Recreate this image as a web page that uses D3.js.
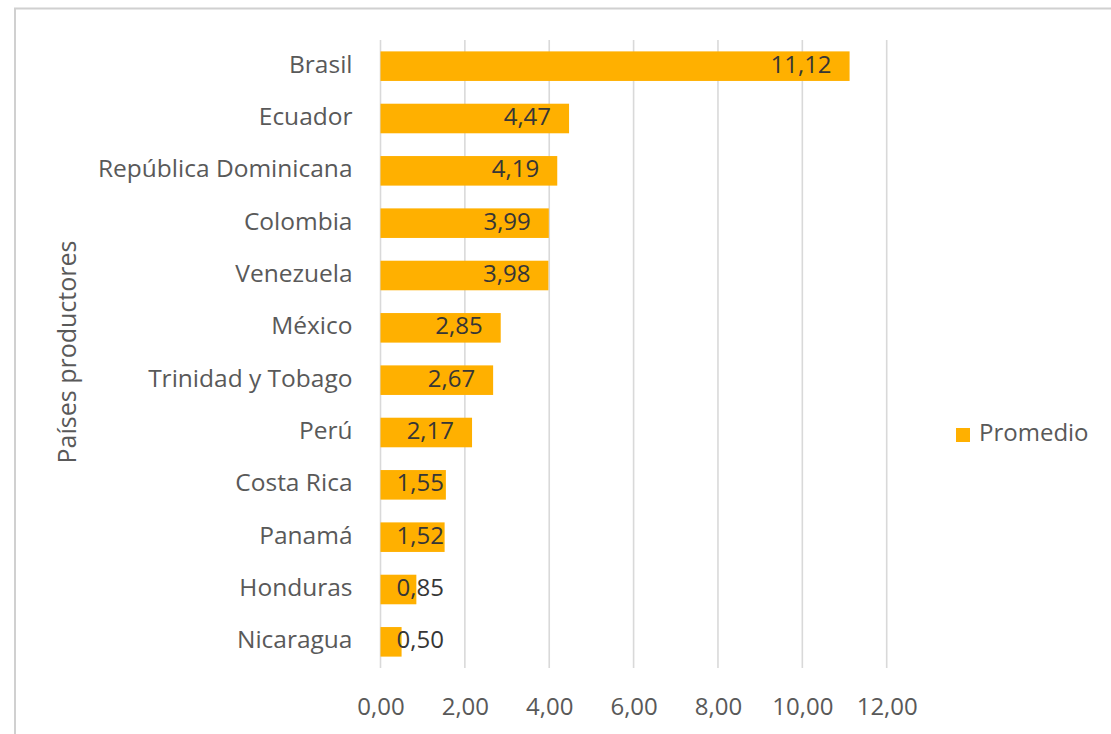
<!DOCTYPE html>
<html>
<head>
<meta charset="utf-8">
<script src="https://cdn.jsdelivr.net/npm/d3@7"></script>
<style>
  html, body { margin: 0; padding: 0; background: #fff; }
  svg { display: block; }
  text { font-family: "Open Sans", "Noto Sans", sans-serif; }
</style>
</head>
<body>
<svg id="chart" width="1111" height="734"></svg>
<script>
// Average per producing country
const countries = ["Brasil", "Ecuador", "República Dominicana", "Colombia", "Venezuela", "México",
  "Trinidad y Tobago", "Perú", "Costa Rica", "Panamá", "Honduras", "Nicaragua"];
const promedio = [11.12, 4.47, 4.19, 3.99, 3.98, 2.85, 2.67, 2.17, 1.55, 1.52, 0.85, 0.50];
const xTicks = [0, 2, 4, 6, 8, 10, 12];
const seriesName = "Promedio";
const axisTitle = "Países productores";

const W = 1111, H = 734;
const margin = { left: 380.5, right: W - 886.7, top: 40, bottom: H - 668 };
const barColor = "#FFB000";
const gridColor = "#D9D9D9";
const labelColor = "#595959";
const valueColor = "#363636";
const fontSize = 24;

const svg = d3.select("#chart");

// Outer chart frame
svg.append("rect")
  .attr("x", 15).attr("y", 8.5)
  .attr("width", W + 10).attr("height", H + 10)
  .attr("fill", "none").attr("stroke", "#D0D0D0").attr("stroke-width", 2);

const x = d3.scaleLinear().domain([0, 12]).range([margin.left, W - margin.right]);
const y = d3.scaleBand().domain(countries)
  .range([margin.top, H - margin.bottom]).paddingInner(0.435).paddingOuter(0.2175);

const fmt = v => d3.format(".2f")(v).replace(".", ",");

// Vertical gridlines
svg.append("g")
  .selectAll("line").data(xTicks).join("line")
  .attr("x1", d => x(d)).attr("x2", d => x(d))
  .attr("y1", margin.top).attr("y2", H - margin.bottom)
  .attr("stroke", gridColor).attr("stroke-width", 1.6);

// X axis tick labels
const xAxis = d3.axisBottom(x).tickValues(xTicks).tickFormat(fmt).tickSize(0).tickPadding(0);
const gx = svg.append("g").attr("transform", `translate(0,${H - margin.bottom})`).call(xAxis);
gx.select(".domain").remove();
gx.selectAll("text")
  .attr("dy", null).attr("y", 41)
  .attr("dominant-baseline", "middle")
  .attr("font-size", fontSize).attr("fill", labelColor)
  .attr("font-family", "'Open Sans', 'Noto Sans', sans-serif");

// Bars
svg.append("g")
  .selectAll("rect").data(countries).join("rect")
  .attr("x", x(0))
  .attr("y", d => y(d))
  .attr("width", (d, i) => x(promedio[i]) - x(0))
  .attr("height", y.bandwidth())
  .attr("fill", barColor);

// Category labels (y axis)
const yAxis = d3.axisLeft(y).tickSize(0).tickPadding(0);
const gy = svg.append("g").attr("transform", `translate(${margin.left - 28},0)`).call(yAxis);
gy.select(".domain").remove();
gy.selectAll("text")
  .attr("dy", null).attr("dominant-baseline", "middle")
  .attr("font-size", 24.5).attr("fill", labelColor)
  .attr("font-family", "'Open Sans', 'Noto Sans', sans-serif");

// Value labels at the inside end of each bar, kept clear of the axis
const vals = svg.append("g")
  .selectAll("text").data(countries).join("text")
  .attr("y", d => y(d) + y.bandwidth() / 2)
  .attr("dominant-baseline", "middle")
  .attr("text-anchor", "end")
  .attr("font-size", fontSize).attr("fill", valueColor)
  .text((d, i) => fmt(promedio[i]));
vals.each(function (d, i) {
  const w = this.getComputedTextLength();
  const endX = Math.max(x(promedio[i]) - 18, x(0) + 16 + w);
  d3.select(this).attr("x", endX);
});

// Axis title
svg.append("text")
  .attr("transform", "translate(69,352) rotate(-90)")
  .attr("text-anchor", "middle").attr("dominant-baseline", "middle")
  .attr("font-size", 25).attr("fill", labelColor)
  .text(axisTitle);

// Legend
const lg = svg.append("g").attr("transform", "translate(956,435)");
lg.append("rect").attr("x", 0).attr("y", -7).attr("width", 14).attr("height", 14).attr("fill", barColor);
lg.append("text").attr("x", 23).attr("y", 0).attr("dominant-baseline", "middle")
  .attr("font-size", fontSize).attr("fill", labelColor).text(seriesName);
</script>
</body>
</html>
